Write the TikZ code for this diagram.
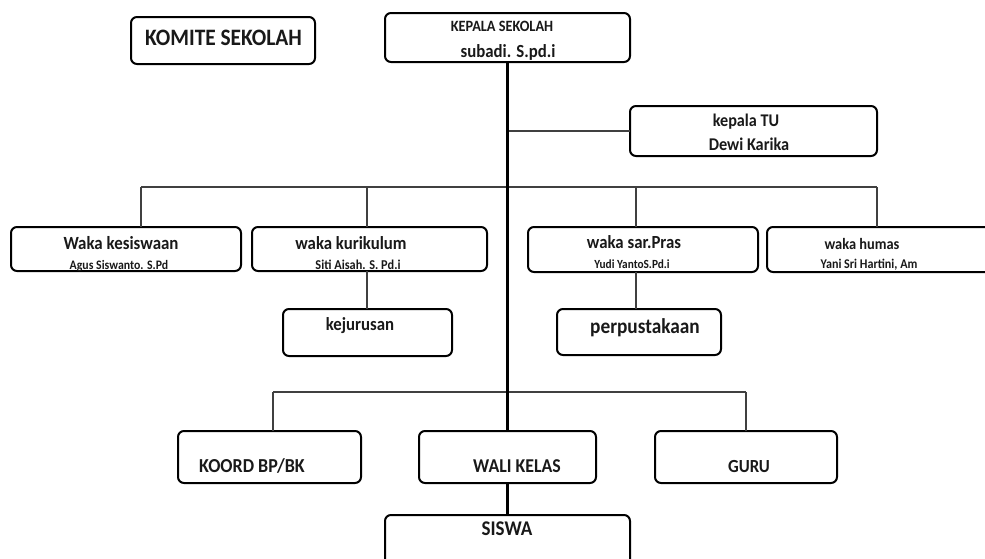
\documentclass[tikz,border=0pt]{standalone}
\usepackage{fontspec}
\setmainfont{Carlito}
\newcommand\mytxt[2]{\fontsize{#1}{#1}\selectfont\scalebox{1}[1.1]{#2}}
\begin{document}
\begin{tikzpicture}[x=1pt,y=-1pt,
  box/.style={draw=black, line width=2pt, rounded corners=6pt, inner sep=0pt, outer sep=0pt, fill=white},
  lbl/.style={inner sep=0pt, anchor=base, font=\bfseries, text=black!90},
  thin/.style={draw=black!75, line width=1.3pt},
  mainline/.style={draw=black, line width=2.4pt}]
\useasboundingbox (0,0) rectangle (985,558);
\clip (0,0) rectangle (985,558);
\fill[white] (0,0) rectangle (985,558);

% coordinates for bus lines
\coordinate (d1) at (141,187);
\coordinate (d2) at (367,187);
\coordinate (d3) at (636,187);
\coordinate (d4) at (877,187);
\coordinate (e1) at (273,392);
\coordinate (e2) at (746,392);

% connectors (drawn first, boxes on top)
\node[box, minimum width=245pt, minimum height=49pt] (kepala) at (507.5,37.5) {};
\node[box, minimum width=247pt, minimum height=50pt] (tu) at (753.5,131) {};
\node[box, minimum width=230pt, minimum height=44pt] (kes) at (126,249) {};
\node[box, minimum width=235pt, minimum height=44pt] (kur) at (369.5,249) {};
\node[box, minimum width=230pt, minimum height=45pt] (sar) at (643,249.5) {};
\node[box, minimum width=233pt, minimum height=45pt] (hum) at (883.5,249.5) {};
\node[box, minimum width=169pt, minimum height=47pt] (kej) at (367.5,332.5) {};
\node[box, minimum width=164pt, minimum height=46pt] (per) at (639,332) {};
\node[box, minimum width=183pt, minimum height=52pt] (koo) at (269.5,457) {};
\node[box, minimum width=177pt, minimum height=52pt] (wal) at (507.5,457) {};
\node[box, minimum width=182pt, minimum height=52pt] (gur) at (746,457) {};
\node[box, minimum width=245pt, minimum height=65pt] (sis) at (507.5,547.5) {};
\node[box, minimum width=184pt, minimum height=47pt] (komite) at (223,40.5) {};

\begin{scope}[on background layer/.style={}]
\draw[thin] (tu.west) -- (tu.west -| kepala.south);
\draw[thin] (d1) -- (d4);
\draw[thin] (d1) -- (d1 |- kes.north);
\draw[thin] (d2) -- (d2 |- kur.north);
\draw[thin] (d3) -- (d3 |- sar.north);
\draw[thin] (d4) -- (d4 |- hum.north);
\draw[thin] (d2 |- kur.south) -- (d2 |- kej.north);
\draw[thin] (d3 |- sar.south) -- (d3 |- per.north);
\draw[thin] (e1) -- (e2);
\draw[thin] (e1) -- (e1 |- koo.north);
\draw[thin] (e2) -- (e2 |- gur.north);
\draw[mainline] (kepala.south) -- (wal.north);
\draw[mainline] (wal.south) -- (sis.north);
\end{scope}

% texts
\node[lbl] (tkom) at (223.5,45) {\mytxt{21.4}{KOMITE SEKOLAH}};
\node[lbl] (tkep1) at (502,31) {\mytxt{14.3}{KEPALA SEKOLAH}};
\node[lbl] (tkep2) at (508,57) {\mytxt{16.8}{subadi. S.pd.i}};
\node[lbl] (ttu1) at (746,126) {\mytxt{16.2}{kepala TU}};
\node[lbl] (ttu2) at (749,150) {\mytxt{16.3}{Dewi Karika}};
\node[lbl] (tkes1) at (121,249) {\mytxt{16.9}{Waka kesiswaan}};
\node[lbl] (tkes2) at (119,269) {\mytxt{11.8}{Agus Siswanto. S.Pd}};
\node[lbl] (tkur1) at (351,249) {\mytxt{16.8}{waka kurikulum}};
\node[lbl] (tkur2) at (358,269) {\mytxt{12.3}{Siti Aisah. S. Pd.i}};
\node[lbl] (tsar1) at (634,248) {\mytxt{16.8}{waka sar.Pras}};
\node[lbl] (tsar2) at (632,268) {\mytxt{11.3}{Yudi YantoS.Pd.i}};
\node[lbl] (thum1) at (862,249) {\mytxt{14.4}{waka humas}};
\node[lbl] (thum2) at (869,268) {\mytxt{12.1}{Yani Sri Hartini, Am}};
\node[lbl] (tkej) at (360,330) {\mytxt{16.8}{kejurusan}};
\node[lbl] (tper) at (645,333) {\mytxt{19.3}{perpustakaan}};
\node[lbl] (tkoo) at (252,472) {\mytxt{18}{KOORD BP/BK}};
\node[lbl] (twal) at (517,472) {\mytxt{17.8}{WALI KELAS}};
\node[lbl] (tgur) at (749,472) {\mytxt{16.8}{GURU}};
\node[lbl] (tsis) at (507,535) {\mytxt{19}{SISWA}};
\end{tikzpicture}
\end{document}
